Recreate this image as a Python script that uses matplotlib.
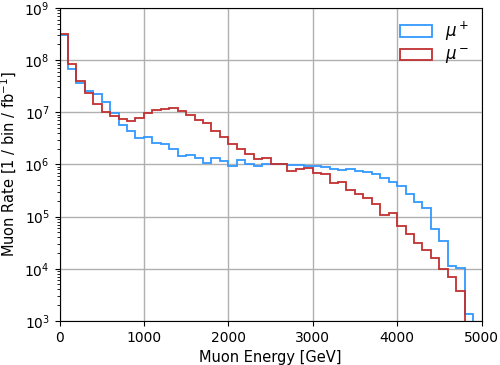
import matplotlib
matplotlib.use("Agg")
import matplotlib.pyplot as plt
import numpy as np

# 100 GeV bins from 0 to 5000 GeV
bin_edges = np.arange(0, 5001, 100)

# rate per bin, mu+ (blue)
mu_plus = [
    3.0e8, 6.9e7, 3.7e7, 2.6e7, 2.2e7, 1.57e7, 9.7e6, 5.7e6, 4.4e6, 3.2e6,
    3.3e6, 2.6e6, 2.43e6, 1.98e6, 1.45e6, 1.51e6, 1.31e6, 1.05e6, 1.35e6, 1.15e6,
    9.4e5, 1.2e6, 1.0e6, 9.4e5, 1.0e6, 1.0e6, 1.0e6, 9.7e5, 9.7e5, 9.4e5,
    9.2e5, 9.0e5, 8.3e5, 7.9e5, 8.3e5, 7.6e5, 7.1e5, 6.5e5, 5.6e5, 4.6e5,
    3.8e5, 2.7e5, 1.9e5, 1.49e5, 5.8e4, 3.4e4, 1.15e4, 1.02e4, 1.35e3, 0.0,
]

# rate per bin, mu- (red)
mu_minus = [
    3.2e8, 8.4e7, 3.9e7, 2.36e7, 1.45e7, 1.0e7, 8.6e6, 7.4e6, 6.7e6, 7.7e6,
    9.5e6, 1.1e7, 1.18e7, 1.22e7, 1.06e7, 8.9e6, 7.1e6, 6.2e6, 4.45e6, 3.4e6,
    2.5e6, 1.95e6, 1.56e6, 1.29e6, 1.35e6, 1.0e6, 1.02e6, 7.6e5, 8.1e5, 8.4e5,
    6.9e5, 6.5e5, 4.4e5, 4.6e5, 3.2e5, 2.7e5, 2.3e5, 1.73e5, 1.05e5, 1.15e5,
    6.5e4, 4.7e4, 3.1e4, 2.33e4, 1.59e4, 9.7e3, 6.8e3, 3.7e3, 0.0, 0.0,
]

centers = 0.5 * (bin_edges[:-1] + bin_edges[1:])

fig, ax = plt.subplots(figsize=(5.0, 3.65), dpi=100)
fig.subplots_adjust(left=0.119, right=0.963, top=0.978, bottom=0.121)

ax.hist(centers, bins=bin_edges, weights=mu_plus, histtype="step",
        color="#3399ff", linewidth=1.3, label=r"$\mu^+$")
ax.hist(centers, bins=bin_edges, weights=mu_minus, histtype="step",
        color="#c03030", linewidth=1.3, label=r"$\mu^-$")

ax.set_yscale("log")
ax.set_xlim(0, 5000)
ax.set_ylim(1e3, 1e9)
ax.set_xticks(np.arange(0, 5001, 1000))
ax.set_xlabel("Muon Energy [GeV]", fontsize=10.5)
ax.set_ylabel(r"Muon Rate [1 / bin / fb$^{-1}$]", fontsize=10.5)
ax.grid(True, which="major", color="#b0b0b0", linewidth=1.0)
ax.set_axisbelow(True)
ax.legend(loc="upper right", frameon=False, fontsize=12, handlelength=1.95,
          labelspacing=0.2, borderaxespad=0.3)

fig.savefig("out.png", dpi=100)
plt.close(fig)
